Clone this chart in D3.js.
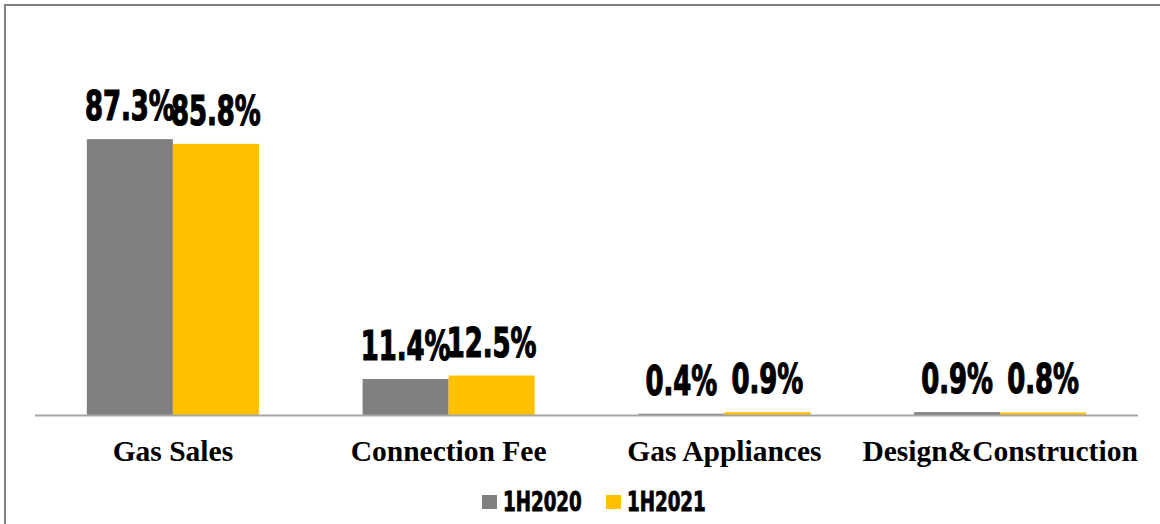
<!DOCTYPE html>
<html>
<head>
<meta charset="utf-8">
<script src="https://cdn.jsdelivr.net/npm/d3@7"></script>
<style>
  html, body { margin: 0; padding: 0; background: #fff; }
  svg { display: block; }
</style>
</head>
<body>
<svg id="chart" width="1160" height="524"></svg>
<script>
const categories = ["Gas Sales", "Connection Fee", "Gas Appliances", "Design&Construction"];
const seriesNames = ["1H2020", "1H2021"];
const values2020 = [87.3, 11.4, 0.4, 0.9];
const values2021 = [85.8, 12.5, 0.9, 0.8];
const colors = ["#808080", "#FFC000"];

const svg = d3.select("#chart");
const W = 1160, H = 524;

// frame (top/left visible)
svg.append("rect").attr("x", 5).attr("y", 5).attr("width", W + 10).attr("height", H + 10)
  .attr("fill", "#fff").attr("stroke", "#808080").attr("stroke-width", 2);

const left = 35, right = 1138, baseY = 415, topY = 99;
const x0 = d3.scaleBand().domain(categories).range([left, right]).paddingInner(0.376).paddingOuter(0.188);
const x1 = d3.scaleBand().domain(seriesNames).range([0, x0.bandwidth()]);
const y = d3.scaleLinear().domain([0, 100]).range([baseY, topY]);

const series = [values2020, values2021];
const data = categories.map((c, i) => ({ cat: c, vals: seriesNames.map((s, j) => ({ s, j, v: series[j][i] })) }));

const groups = svg.append("g").selectAll("g").data(data).join("g")
  .attr("transform", d => `translate(${x0(d.cat)},0)`);

groups.selectAll("rect").data(d => d.vals).join("rect")
  .attr("x", d => x1(d.s))
  .attr("y", d => y(d.v))
  .attr("width", x1.bandwidth())
  .attr("height", d => y(0) - y(d.v))
  .attr("fill", d => colors[d.j]);

// value labels
const labelFont = "'DejaVu Sans Condensed', 'DejaVu Sans', sans-serif";
groups.selectAll("g.lbl").data(d => d.vals).join("g")
  .attr("class", "lbl")
  .attr("transform", d => `translate(${x1(d.s) + x1.bandwidth() / 2},${y(d.v) - 19})`)
  .append("text")
  .attr("transform", "scale(0.72,1)")
  .attr("text-anchor", "middle")
  .attr("font-family", labelFont)
  .attr("font-weight", "bold")
  .attr("font-size", 40)
  .attr("fill", "#000")
  .attr("stroke", "#000")
  .attr("stroke-width", 1.2)
  .text(d => d.v.toFixed(1) + "%");

// axis line
svg.append("line").attr("x1", left).attr("x2", right).attr("y1", baseY + 0.5).attr("y2", baseY + 0.5)
  .attr("stroke", "#a6a6a6").attr("stroke-width", 2);

// category labels
const xAxis = d3.axisBottom(x0).tickSize(0).tickPadding(0);
const ax = svg.append("g").attr("transform", `translate(0,${baseY})`).call(xAxis);
ax.select(".domain").remove();
ax.selectAll("text")
  .attr("y", 46)
  .attr("dy", 0)
  .attr("font-family", "'Liberation Serif', 'Times New Roman', serif")
  .attr("font-weight", "bold")
  .attr("font-size", 29.5)
  .attr("fill", "#000");

// legend
const legend = svg.append("g");
const legX = [482, 606];
seriesNames.forEach((s, i) => {
  legend.append("rect").attr("x", legX[i]).attr("y", 495).attr("width", 15).attr("height", 14).attr("fill", colors[i]);
  legend.append("g").attr("transform", `translate(${legX[i] + 21},511)`)
    .append("text")
    .attr("transform", "scale(0.78,1)")
    .attr("font-family", labelFont)
    .attr("font-weight", "bold")
    .attr("font-size", 26)
    .attr("fill", "#000")
    .attr("stroke", "#000")
    .attr("stroke-width", 0.8)
    .text(s);
});
</script>
</body>
</html>
